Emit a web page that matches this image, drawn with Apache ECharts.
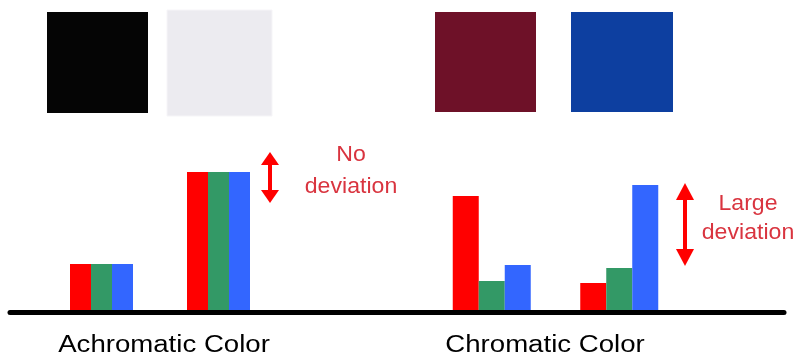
<!DOCTYPE html>
<html>
<head>
<meta charset="utf-8">
<script src="https://cdn.jsdelivr.net/npm/echarts@6/dist/echarts.min.js"></script>
<style>
html,body{margin:0;padding:0;background:#ffffff;}
#chart{width:798px;height:361px;}
</style>
</head>
<body>
<div id="chart"></div>
<script>
// ---- data ----
var achromaticCategories = ['Black', 'White'];
var chromaticCategories = ['Dark red', 'Blue'];
var achromaticR = [46, 138];
var achromaticG = [46, 138];
var achromaticB = [46, 138];
var chromaticR = [114, 27];
var chromaticG = [29, 42];
var chromaticB = [45, 125];
var groupLabels = ['Achromatic Color', 'Chromatic Color'];
var swatchColors = ['#050505', '#ECEBF0', '#6E1128', '#0D3FA0'];
var noteLabels = ['No\ndeviation', 'Large\ndeviation'];

var RED = '#FF0000', GREEN = '#339966', BLUE = '#3366FF';
var NOTE = '#D9343F';
var FONT = '"Liberation Sans", Arial, sans-serif';

var chart = echarts.init(document.getElementById('chart'));

function axisPair(idx, cats) {
  return {
    x: {type: 'category', gridIndex: idx, data: cats, show: false},
    y: {type: 'value', gridIndex: idx, min: 0, max: 150, show: false}
  };
}
var a0 = axisPair(0, achromaticCategories), a1 = axisPair(1, chromaticCategories);

function barSeries(idx, data, color, w) {
  return {type: 'bar', xAxisIndex: idx, yAxisIndex: idx, data: data, barWidth: w, barGap: '0%',
    itemStyle: {color: color}, silent: true, animation: false};
}

function arrow(cx, top, bottom, headH, halfW, shaftW) {
  return [
    {type: 'rect', shape: {x: cx - shaftW / 2, y: top + headH - 1, width: shaftW, height: bottom - top - 2 * headH + 2}, style: {fill: RED}},
    {type: 'polygon', shape: {points: [[cx, top], [cx - halfW, top + headH], [cx + halfW, top + headH]]}, style: {fill: RED}},
    {type: 'polygon', shape: {points: [[cx, bottom], [cx - halfW, bottom - headH], [cx + halfW, bottom - headH]]}, style: {fill: RED}}
  ];
}

function label(text, x, y, size, color, sx, lh) {
  return {type: 'text', x: x, y: y, scaleX: sx, scaleY: 1,
    style: {text: text, x: 0, y: 0, fill: color, font: size + 'px ' + FONT,
      align: 'center', textAlign: 'center', verticalAlign: 'middle', textVerticalAlign: 'middle', lineHeight: lh}};
}

var graphics = [
  {type: 'rect', shape: {x: 47, y: 12, width: 101, height: 101}, style: {fill: swatchColors[0]}},
  {type: 'rect', shape: {x: 167, y: 10, width: 105, height: 106}, style: {fill: swatchColors[1], stroke: '#F6F5F8', lineWidth: 1}},
  {type: 'rect', shape: {x: 435, y: 12, width: 101, height: 100}, style: {fill: swatchColors[2]}},
  {type: 'rect', shape: {x: 571, y: 12, width: 102, height: 100}, style: {fill: swatchColors[3]}},
  {type: 'line', shape: {x1: 10, y1: 312.5, x2: 784, y2: 312.5}, style: {stroke: '#000000', lineWidth: 5, lineCap: 'round'}, z: 10},
  label(groupLabels[0], 164, 346, 23, '#000000', 1.2, 28),
  label(groupLabels[1], 545, 346, 23, '#000000', 1.2, 28),
  label(noteLabels[0], 351, 171, 22, NOTE, 1.05, 32),
  label(noteLabels[1], 748, 218, 22, NOTE, 1.05, 29)
].concat(arrow(270, 152, 203, 13, 9, 4)).concat(arrow(685, 183, 266, 17, 9, 4));

chart.setOption({
  backgroundColor: '#ffffff',
  animation: false,
  grid: [
    {left: 43, width: 234, top: 160, height: 150},
    {left: 428, width: 255, top: 160, height: 150}
  ],
  xAxis: [a0.x, a1.x],
  yAxis: [a0.y, a1.y],
  series: [
    barSeries(0, achromaticR, RED, 21),
    barSeries(0, achromaticG, GREEN, 21),
    barSeries(0, achromaticB, BLUE, 21),
    barSeries(1, chromaticR, RED, 26),
    barSeries(1, chromaticG, GREEN, 26),
    barSeries(1, chromaticB, BLUE, 26)
  ],
  graphic: graphics
});
</script>
</body>
</html>
